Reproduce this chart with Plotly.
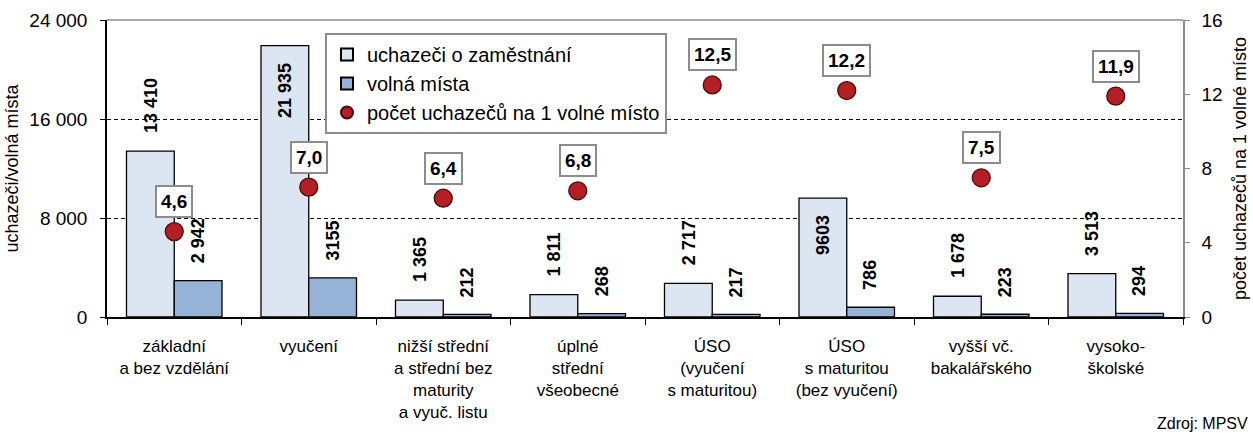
import plotly.graph_objects as go

categories = [
    "základní<br>a bez vzdělání",
    "vyučení",
    "nižší střední<br>a střední bez<br>maturity<br>a vyuč. listu",
    "úplné<br>střední<br>všeobecné",
    "ÚSO<br>(vyučení<br>s maturitou)",
    "ÚSO<br>s maturitou<br>(bez vyučení)",
    "vyšší vč.<br>bakalářského",
    "vysoko-<br>školské",
]
uchazeci = [13410, 21935, 1365, 1811, 2717, 9603, 1678, 3513]
volna_mista = [2942, 3155, 212, 268, 217, 786, 223, 294]
pomer = [4.6, 7.0, 6.4, 6.8, 12.5, 12.2, 7.5, 11.9]
uchazeci_labels = ["13 410", "21 935", "1 365", "1 811", "2 717", "9603", "1 678", "3 513"]
volna_labels = ["2 942", "3155", "212", "268", "217", "786", "223", "294"]
uchazeci_inside = [False, True, False, False, False, True, False, False]

FONT = "Liberation Sans, Arial, sans-serif"
C_LIGHT = "#DCE6F2"
C_DARK = "#95B3D7"
C_DOT = "#B41F24"

fig = go.Figure()
fig.add_trace(go.Bar(x=categories, y=uchazeci, name="uchazeči o zaměstnání",
                     marker=dict(color=C_LIGHT, line=dict(color="black", width=1.3))))
fig.add_trace(go.Bar(x=categories, y=volna_mista, name="volná místa",
                     marker=dict(color=C_DARK, line=dict(color="black", width=1.3))))
fig.add_trace(go.Scatter(x=categories, y=pomer, name="počet uchazečů na 1 volné místo",
                         mode="markers", yaxis="y2",
                         marker=dict(color=C_DOT, size=18, line=dict(color="#4a0a0a", width=1.3))))

BARGAP = 0.29
off = (1 - BARGAP) / 4
ann = []
for i in range(len(categories)):
    if uchazeci_inside[i]:
        ann.append(dict(x=i - off, y=uchazeci[i], xref="x", yref="y", text=uchazeci_labels[i],
                        textangle=-90, showarrow=False, yanchor="top", yshift=-15,
                        font=dict(family=FONT, size=18, color="black", weight="bold")))
    else:
        ann.append(dict(x=i - off, y=uchazeci[i], xref="x", yref="y", text=uchazeci_labels[i],
                        textangle=-90, showarrow=False, yanchor="bottom", yshift=16,
                        font=dict(family=FONT, size=18, color="black", weight="bold")))
    ann.append(dict(x=i + off, y=volna_mista[i], xref="x", yref="y", text=volna_labels[i],
                    textangle=-90, showarrow=False, yanchor="bottom", yshift=15,
                    font=dict(family=FONT, size=18, color="black", weight="bold")))
    ann.append(dict(x=i, y=pomer[i], xref="x", yref="y2",
                    text=f"{pomer[i]:.1f}".replace(".", ","),
                    showarrow=False, yanchor="middle", yshift=30,
                    bgcolor="white", bordercolor="#8C8C8C", borderwidth=2, borderpad=4,
                    font=dict(family=FONT, size=19, color="black", weight="bold")))
ann.append(dict(x=1.0625, y=-0.36, xref="paper", yref="paper", text="Zdroj: MPSV",
                showarrow=False, xanchor="right", yanchor="middle",
                font=dict(family=FONT, size=16, color="black")))

fig.update_layout(
    width=1253, height=436,
    margin=dict(l=107, r=70, t=20, b=119),
    paper_bgcolor="white", plot_bgcolor="white",
    barmode="group", bargap=BARGAP, bargroupgap=0,
    separators=", ",
    font=dict(family=FONT, size=17, color="black"),
    annotations=ann,
    legend=dict(x=0.2026, y=0.956, xanchor="left", yanchor="top",
                bgcolor="white", bordercolor="#8C8C8C", borderwidth=2,
                font=dict(family=FONT, size=20, color="black"),
                tracegroupgap=0, itemwidth=30, itemsizing="constant"),
    xaxis=dict(type="category", showline=True, linecolor="black", linewidth=1.5,
               ticks="outside", tickson="boundaries", ticklen=6, tickcolor="black",
               automargin=False, ticklabelstandoff=13,
               tickfont=dict(family=FONT, size=17, color="black"), showgrid=False),
    yaxis=dict(range=[0, 24000], tickvals=[0, 8000, 16000, 24000], tickformat=",d",
               showline=True, linecolor="black", linewidth=1.5, ticks="outside",
               ticklen=5, tickcolor="black", automargin=False, ticklabelstandoff=9,
               showgrid=True, gridcolor="black", gridwidth=1, griddash="4px,3px",
               zeroline=False,
               title=dict(text="uchazeči/volná místa", font=dict(family=FONT, size=18), standoff=6),
               tickfont=dict(family=FONT, size=19, color="black")),
    yaxis2=dict(range=[0, 16], tickvals=[0, 4, 8, 12, 16], overlaying="y", side="right",
                showline=True, linecolor="#8C8C8C", linewidth=1.5, ticks="outside",
                ticklen=5, tickcolor="#8C8C8C", showgrid=False, zeroline=False,
                automargin=False, ticklabelstandoff=8,
                title=dict(text="počet uchazečů na 1 volné místo", font=dict(family=FONT, size=18), standoff=12),
                tickfont=dict(family=FONT, size=19, color="black")),
    shapes=[dict(type="line", xref="paper", yref="paper", x0=0, x1=1, y0=1, y1=1,
                 line=dict(color="#8C8C8C", width=1.5))],
)

fig.write_html(
    "out.html",
    config={"displayModeBar": False},
    post_script="document.body.style.margin='0';document.body.style.overflow='hidden';",
)
